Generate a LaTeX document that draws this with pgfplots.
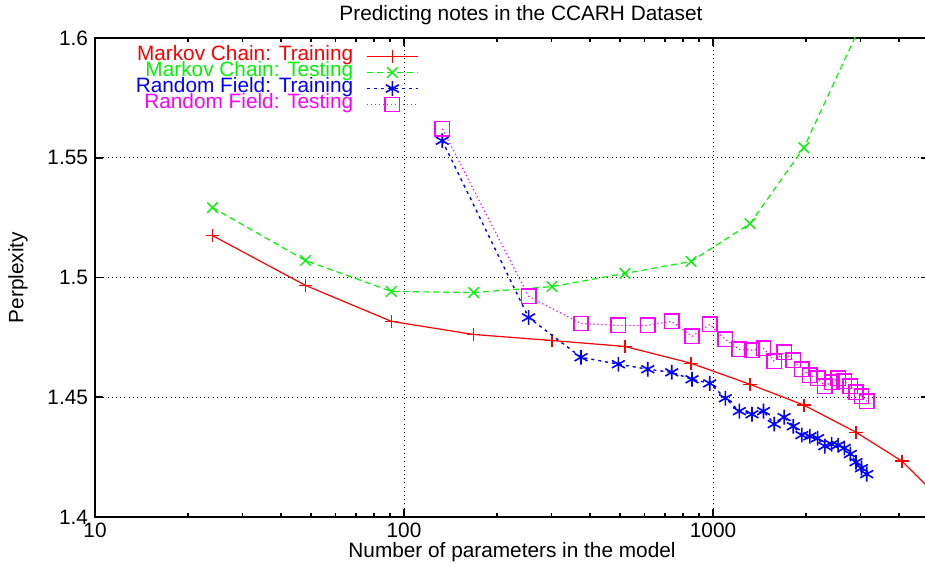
\documentclass[border=0pt]{standalone}
\usepackage{pgfplots}
\usepackage{pgfplotstable}
\pgfplotsset{compat=1.18}
\usepackage{fontspec}
\setmainfont{Liberation Sans}

\definecolor{gpred}{RGB}{255,0,0}
\definecolor{gpgreen}{RGB}{0,245,0}
\definecolor{gpblue}{RGB}{0,0,255}
\definecolor{gpmagenta}{RGB}{255,0,255}

% open square drawn in the current stroke colour
\pgfdeclareplotmark{gpsquare}{%
  \pgfpathrectangle{\pgfqpoint{-\pgfplotmarksize}{-\pgfplotmarksize}}%
    {\pgfqpoint{2\pgfplotmarksize}{2\pgfplotmarksize}}%
  \pgfusepathqstroke}

% Markov chain models (last rows lie outside the visible range)
\pgfplotstableread{
n     train
24    1.5175
48    1.4967
91    1.4817
168   1.4762
301   1.4737
519   1.4712
849   1.4642
1318  1.4554
1969  1.4467
2902  1.4354
4090  1.4233
6000  1.4020
}\mctrain

\pgfplotstableread{
n     test
24    1.5292
48    1.5071
91    1.4942
168   1.4937
301   1.4962
519   1.5017
849   1.5067
1318  1.5225
1969  1.5542
3222  1.6138
}\mctest

% Random field models
\pgfplotstableread{
n     train   test
133   1.5571  1.5621
253   1.4833  1.4921
374   1.4667  1.4808
494   1.4638  1.4800
615   1.4617  1.4800
735   1.4604  1.4817
855   1.4575  1.4754
976   1.4558  1.4804
1096  1.4496  1.4742
1217  1.4442  1.4700
1337  1.4429  1.4696
1457  1.4442  1.4704
1578  1.4388  1.4650
1698  1.4417  1.4688
1819  1.4379  1.4654
1939  1.4342  1.4617
2059  1.4337  1.4592
2180  1.4329  1.4579
2300  1.4296  1.4546
2421  1.4304  1.4563
2541  1.4300  1.4579
2661  1.4288  1.4567
2782  1.4263  1.4546
2902  1.4229  1.4521
3023  1.4204  1.4504
3143  1.4179  1.4483
}\field

\begin{document}
\begin{tikzpicture}
\useasboundingbox (-47.5pt,-25.5pt) rectangle (415pt,258.5pt);
\begin{axis}[
  scale only axis, width=417pt, height=239.5pt,
  font=\fontsize{10.4}{12}\selectfont,
  xmode=log, xmin=10, xmax=5000, ymin=1.4, ymax=1.6,
  xtick={10,100,1000}, xticklabels={10,100,1000},
  minor xtick={20,30,40,50,60,70,80,90,200,300,400,500,600,700,800,900,2000,3000,4000},
  ytick={1.4,1.45,1.5,1.55,1.6},
  yticklabel style={/pgf/number format/assume math mode=true},
  xticklabel style={anchor=base, yshift=-10pt},
  tick align=inside, major tick length=4pt, minor tick length=2pt,
  every tick/.style={black, line width=0.9pt},
  axis line style={line width=1.4pt},
  grid=major,
  major grid style={black, line width=0.5pt, dash pattern=on 0.5pt off 1.6pt},
  clip marker paths=true,
  title={Predicting notes in the CCARH Dataset},
  title style={at={(axis description cs:0.5,1)}, anchor=base, yshift=2.5pt, xshift=4.5pt},
  xlabel={Number of parameters in the model},
  xlabel style={at={(axis description cs:0.5,0)}, anchor=base, yshift=-20pt},
  ylabel={Perplexity},
  ylabel style={at={(axis description cs:0,0.5)}, anchor=center, yshift=38.5pt},
  legend plot pos=right,
  legend cell align=right,
  legend image code/.code={
    \draw[mark=none] (0pt,0pt) -- (25.5pt,0pt);
    \draw[only marks] plot coordinates {(12.75pt,0pt)};
  },
  legend style={at={(axis description cs:0.388,0.978)}, anchor=north east,
    draw=none, fill=none, inner sep=0pt, outer sep=0pt,
    column sep=6.5pt, row sep=0pt,
    nodes={inner sep=0pt, text height=6pt, text depth=2pt}},
]
\addplot[gpred, line width=0.6pt, mark=+, mark size=3.3pt,
  mark options={solid, draw=gpred, line width=0.7pt}]
  table[x=n, y=train] {\mctrain};
\addlegendentry[text=gpred]{Markov Chain: Training}

\addplot[gpgreen, line width=0.6pt, dash pattern=on 3pt off 2pt, mark=x, mark size=3.7pt,
  mark options={solid, draw=gpgreen, line width=0.7pt}]
  table[x=n, y=test] {\mctest};
\addlegendentry[text=gpgreen]{Markov Chain: Testing}

\addplot[gpblue, line width=0.7pt, dash pattern=on 1.5pt off 2pt, mark=asterisk, mark size=3.7pt,
  mark options={solid, draw=gpblue, line width=0.8pt}]
  table[x=n, y=train] {\field};
\addlegendentry[text=gpblue]{Random Field: Training}

\addplot[gpmagenta, line width=0.6pt, dash pattern=on 0.6pt off 1.4pt, mark=gpsquare, mark size=3.6pt,
  mark options={solid, draw=gpmagenta, line width=0.75pt}]
  table[x=n, y=test] {\field};
\addlegendentry[text=gpmagenta]{Random Field: Testing}
\end{axis}
\end{tikzpicture}
\end{document}
